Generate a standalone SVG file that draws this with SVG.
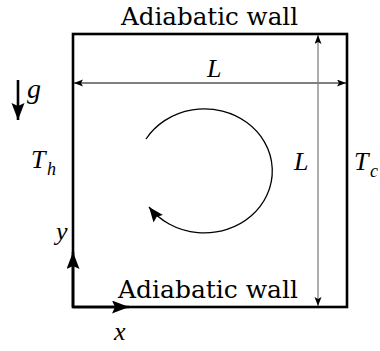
<svg xmlns="http://www.w3.org/2000/svg" width="380" height="351" viewBox="0 0 380 351">
<style>
.wall{font-family:"DejaVu Serif","Liberation Serif",serif;font-size:24px;fill:#000}
.m{font-family:"Liberation Serif","Times New Roman",serif;font-style:italic;fill:#000}
.box{fill:none;stroke:#000;stroke-width:2.6}
.dim{stroke:#000;stroke-width:1;fill:none}
.dimg{stroke:#777;stroke-width:1.2;fill:none}
.ax{stroke:#000;stroke-width:2.6;fill:none}
</style>
<defs>
<marker id="dh" markerUnits="userSpaceOnUse" markerWidth="10" markerHeight="8" refX="9" refY="3.5" orient="auto-start-reverse" viewBox="0 0 10 8">
<path d="M0,0 L9,3.5 L0,7 L2,3.5 z" fill="#000"/>
</marker>
<marker id="bh" markerUnits="userSpaceOnUse" markerWidth="18" markerHeight="14" refX="17" refY="6.5" orient="auto" viewBox="0 0 18 14">
<path d="M0,0 L17,6.5 L0,13 L3,6.5 z" fill="#000"/>
</marker>
<marker id="ah" markerUnits="userSpaceOnUse" markerWidth="16" markerHeight="13" refX="15" refY="6" orient="auto" viewBox="0 0 16 13">
<path d="M0,0 L15,6 L0,12 L2.5,6 z" fill="#000"/>
</marker>
</defs>
<g id="cavity">
<rect class="box" x="73" y="34" width="274" height="273"/>
</g>
<g id="top-wall"><text class="wall" x="121" y="25" textLength="177" lengthAdjust="spacingAndGlyphs">Adiabatic wall</text></g>
<g id="bottom-wall"><text class="wall" x="118" y="298" textLength="180" lengthAdjust="spacingAndGlyphs">Adiabatic wall</text></g>
<g id="hot-label"><text class="m" x="31" y="168" font-size="26">T</text><text class="m" x="47" y="175" font-size="18">h</text></g>
<g id="cold-label"><text class="m" x="354" y="170" font-size="26">T</text><text class="m" x="370" y="177" font-size="18">c</text></g>
<g id="gravity"><text class="m" x="27" y="98" font-size="28">g</text></g>
<g id="width-label"><text class="m" x="207" y="77" font-size="26">L</text></g>
<g id="height-label"><text class="m" x="294" y="170" font-size="26">L</text></g>
<g id="x-label"><text class="m" x="114" y="340" font-size="26">x</text></g>
<g id="y-label"><text class="m" x="56" y="240" font-size="26">y</text></g>
<g id="connectors">
<line class="dim" x1="74" y1="83" x2="346" y2="83" marker-start="url(#dh)" marker-end="url(#dh)"/>
<line class="dimg" x1="318" y1="35" x2="318" y2="306" marker-start="url(#dh)" marker-end="url(#dh)"/>
<line class="ax" x1="18" y1="80" x2="18" y2="120" marker-end="url(#bh)"/>
<line class="ax" x1="73" y1="307" x2="73" y2="252" marker-end="url(#bh)"/>
<line class="ax" x1="73" y1="307" x2="129" y2="307" marker-end="url(#bh)"/>
<path d="M146,139 A68,62 0 1 1 149,207" fill="none" stroke="#000" stroke-width="1.3" marker-end="url(#ah)"/>
</g>
</svg>
